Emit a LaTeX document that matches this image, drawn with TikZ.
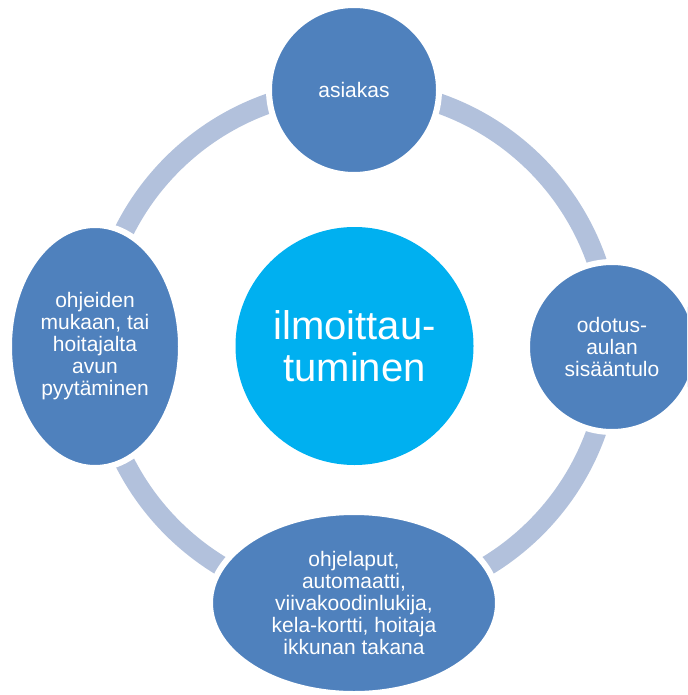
\documentclass[tikz,border=0pt]{standalone}
\usepackage{fontspec}
\setmainfont{Liberation Sans}
\usetikzlibrary{shapes.geometric}
\definecolor{nodeblue}{HTML}{4F81BD}
\definecolor{ringblue}{HTML}{B2C1DC}
\definecolor{centerblue}{HTML}{00B0F0}
\tikzset{
  ringline/.style={draw=ringblue, line width=20pt},
  outer/.style={fill=nodeblue, draw=white, line width=6pt, text=white, inner sep=0pt,
     align=center, font=\fontsize{21}{22}\selectfont},
  hub/.style={circle, fill=centerblue, text=white, inner sep=0pt, minimum size=238pt,
     align=center, font=\fontsize{40}{42}\selectfont}
}
\begin{document}
\begin{tikzpicture}[x=1pt,y=-1pt]
\useasboundingbox (0,0) rectangle (687,695);
\clip (0,0) rectangle (687,695);
\coordinate (ringc) at (354,346);
\draw[ringline] (ringc) circle (257);
\node[hub] (nCenter) at (354.5,346) {ilmoittau-\\tuminen};
\node[outer, circle, minimum size=170pt] (nTop) at (354,90) {asiakas};
\node[outer, circle, minimum size=170pt] (nRight) at (612,347) {odotus-\\aulan\\sisääntulo};
\node[outer, ellipse, minimum width=288pt, minimum height=182pt] (nBottom) at (354,603)
  {ohjelaput,\\automaatti,\\viivakoodinlukija,\\kela-kortti, hoitaja\\ikkunan takana};
\node[outer, ellipse, minimum width=172pt, minimum height=243pt] (nLeft) at (95,346.5)
  {ohjeiden\\mukaan, tai\\hoitajalta\\avun\\pyytäminen};
\end{tikzpicture}
\end{document}
